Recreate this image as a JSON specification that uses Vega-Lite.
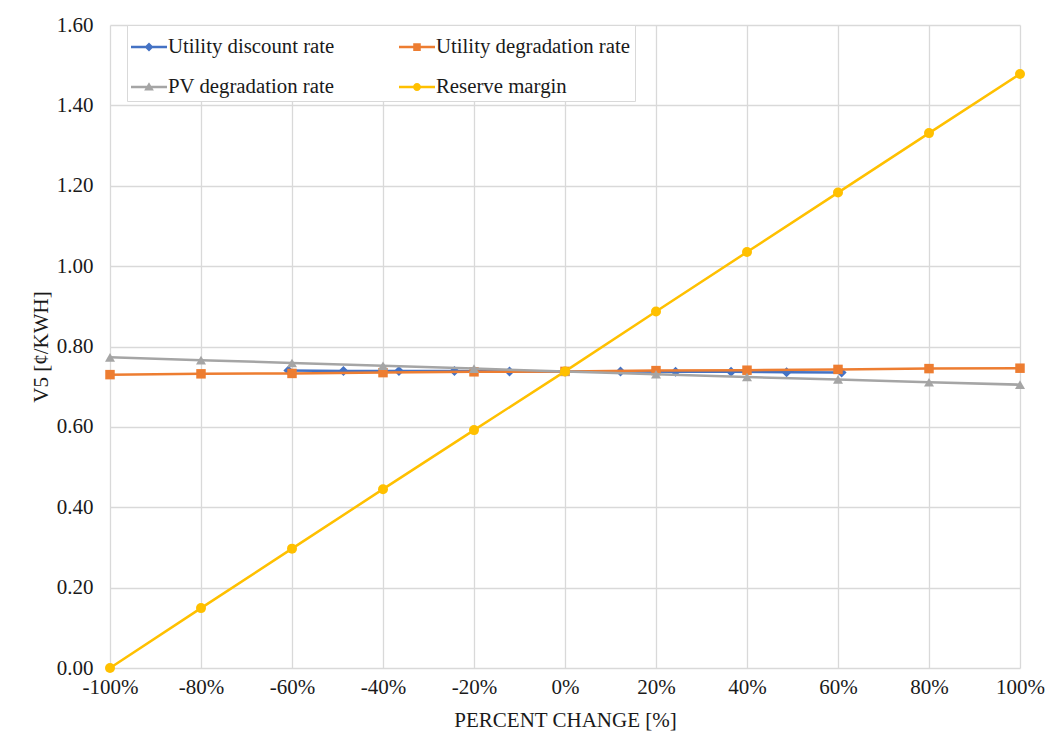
{
  "$schema": "https://vega.github.io/schema/vega-lite/v6.json",
  "width": 910,
  "height": 643,
  "autosize": {"type": "none"},
  "padding": {"left": 110, "top": 25, "right": 38, "bottom": 83},
  "background": "white",
  "config": {
    "view": {"stroke": null},
    "font": "Liberation Serif",
    "axis": {
      "labelFont": "Liberation Serif",
      "titleFont": "Liberation Serif",
      "labelFontSize": 21,
      "titleFontSize": 21,
      "titleFontWeight": "normal",
      "labelColor": "#1a1a1a",
      "titleColor": "#1a1a1a",
      "gridColor": "#d9d9d9",
      "gridWidth": 1.3,
      "domain": false,
      "ticks": false,
      "labelFlush": false,
      "labelOverlap": false
    }
  },
  "data": {
    "values": [
      {"series": "Utility discount rate", "x": -60.8, "y": 0.740},
      {"series": "Utility discount rate", "x": -48.7, "y": 0.739},
      {"series": "Utility discount rate", "x": -36.5, "y": 0.739},
      {"series": "Utility discount rate", "x": -24.3, "y": 0.739},
      {"series": "Utility discount rate", "x": -12.2, "y": 0.738},
      {"series": "Utility discount rate", "x": 0, "y": 0.738},
      {"series": "Utility discount rate", "x": 12.2, "y": 0.738},
      {"series": "Utility discount rate", "x": 24.3, "y": 0.737},
      {"series": "Utility discount rate", "x": 36.5, "y": 0.737},
      {"series": "Utility discount rate", "x": 48.7, "y": 0.736},
      {"series": "Utility discount rate", "x": 60.8, "y": 0.735},
      {"series": "Utility degradation rate", "x": -100, "y": 0.730},
      {"series": "Utility degradation rate", "x": -80, "y": 0.732},
      {"series": "Utility degradation rate", "x": -60, "y": 0.733},
      {"series": "Utility degradation rate", "x": -40, "y": 0.735},
      {"series": "Utility degradation rate", "x": -20, "y": 0.737},
      {"series": "Utility degradation rate", "x": 0, "y": 0.738},
      {"series": "Utility degradation rate", "x": 20, "y": 0.740},
      {"series": "Utility degradation rate", "x": 40, "y": 0.741},
      {"series": "Utility degradation rate", "x": 60, "y": 0.743},
      {"series": "Utility degradation rate", "x": 80, "y": 0.745},
      {"series": "Utility degradation rate", "x": 100, "y": 0.746},
      {"series": "PV degradation rate", "x": -100, "y": 0.773},
      {"series": "PV degradation rate", "x": -80, "y": 0.766},
      {"series": "PV degradation rate", "x": -60, "y": 0.759},
      {"series": "PV degradation rate", "x": -40, "y": 0.752},
      {"series": "PV degradation rate", "x": -20, "y": 0.745},
      {"series": "PV degradation rate", "x": 0, "y": 0.738},
      {"series": "PV degradation rate", "x": 20, "y": 0.731},
      {"series": "PV degradation rate", "x": 40, "y": 0.724},
      {"series": "PV degradation rate", "x": 60, "y": 0.718},
      {"series": "PV degradation rate", "x": 80, "y": 0.711},
      {"series": "PV degradation rate", "x": 100, "y": 0.705},
      {"series": "Reserve margin", "x": -100, "y": 0.000},
      {"series": "Reserve margin", "x": -80, "y": 0.149},
      {"series": "Reserve margin", "x": -60, "y": 0.297},
      {"series": "Reserve margin", "x": -40, "y": 0.445},
      {"series": "Reserve margin", "x": -20, "y": 0.592},
      {"series": "Reserve margin", "x": 0, "y": 0.738},
      {"series": "Reserve margin", "x": 20, "y": 0.887},
      {"series": "Reserve margin", "x": 40, "y": 1.035},
      {"series": "Reserve margin", "x": 60, "y": 1.183},
      {"series": "Reserve margin", "x": 80, "y": 1.331},
      {"series": "Reserve margin", "x": 100, "y": 1.478}
    ]
  },
  "encoding": {
    "x": {
      "field": "x",
      "type": "quantitative",
      "scale": {"domain": [-100, 100], "nice": false, "zero": false},
      "axis": {
        "title": "PERCENT CHANGE [%]",
        "values": [-100, -80, -60, -40, -20, 0, 20, 40, 60, 80, 100],
        "labelExpr": "datum.value + '%'",
        "labelPadding": 8,
        "titlePadding": 12,
        "grid": true
      }
    },
    "y": {
      "field": "y",
      "type": "quantitative",
      "scale": {"domain": [0, 1.6], "nice": false},
      "axis": {
        "title": "V5 [¢/KWH]",
        "values": [0, 0.2, 0.4, 0.6, 0.8, 1.0, 1.2, 1.4, 1.6],
        "format": ".2f",
        "labelPadding": 17,
        "titlePadding": 5,
        "grid": true
      }
    },
    "color": {
      "field": "series",
      "type": "nominal",
      "sort": ["Utility discount rate", "Utility degradation rate", "PV degradation rate", "Reserve margin"],
      "scale": {
        "domain": ["Utility discount rate", "Utility degradation rate", "PV degradation rate", "Reserve margin"],
        "range": ["#4472C4", "#ED7D31", "#A5A5A5", "#FFC000"]
      },
      "legend": {
        "title": null,
        "orient": "none",
        "legendX": 17,
        "legendY": 0,
        "direction": "horizontal",
        "columns": 2,
        "columnPadding": 64,
        "rowPadding": 12,
        "padding": 4,
        "fillColor": "white",
        "strokeColor": "#d9d9d9",
        "symbolSize": 1296,
        "symbolStrokeWidth": 0,
        "labelFont": "Liberation Serif",
        "labelFontSize": 20.8,
        "labelColor": "#1a1a1a",
        "labelLimit": 300,
        "labelOffset": 1,
        "encode": {
          "symbols": {
            "update": {
              "shape": {"signal": "datum.value === 'Utility discount rate' ? 'M-1,-0.07H1V0.07H-1Z M0,-0.25L0.25,0L0,0.25L-0.25,0Z' : datum.value === 'Utility degradation rate' ? 'M-1,-0.07H1V0.07H-1Z M-0.21,-0.21H0.21V0.21H-0.21Z' : datum.value === 'PV degradation rate' ? 'M-1,-0.07H1V0.07H-1Z M0,-0.27L0.27,0.2H-0.27Z' : 'M-1,-0.07H1V0.07H-1Z M-0.22,0A0.22,0.22,0,1,1,0.22,0A0.22,0.22,0,1,1,-0.22,0Z'"},
              "fill": {"scale": "color", "field": "value"},
              "stroke": {"value": "transparent"},
              "strokeWidth": {"value": 0},
              "opacity": {"value": 1}
            }
          }
        }
      }
    }
  },
  "layer": [
    {
      "transform": [{"filter": "datum.series === 'Utility discount rate'"}],
      "mark": {"type": "line", "strokeWidth": 2.5}
    },
    {
      "transform": [{"filter": "datum.series === 'Utility discount rate'"}],
      "mark": {"type": "point", "filled": true, "opacity": 1, "size": 100, "shape": "diamond"}
    },
    {
      "transform": [{"filter": "datum.series === 'Utility degradation rate'"}],
      "mark": {"type": "line", "strokeWidth": 2.5}
    },
    {
      "transform": [{"filter": "datum.series === 'Utility degradation rate'"}],
      "mark": {"type": "point", "filled": true, "opacity": 1, "size": 90, "shape": "square"}
    },
    {
      "transform": [{"filter": "datum.series === 'PV degradation rate'"}],
      "mark": {"type": "line", "strokeWidth": 2.5}
    },
    {
      "transform": [{"filter": "datum.series === 'PV degradation rate'"}],
      "mark": {"type": "point", "filled": true, "opacity": 1, "size": 100, "shape": "triangle-up"}
    },
    {
      "transform": [{"filter": "datum.series === 'Reserve margin'"}],
      "mark": {"type": "line", "strokeWidth": 2.5}
    },
    {
      "transform": [{"filter": "datum.series === 'Reserve margin'"}],
      "mark": {"type": "point", "filled": true, "opacity": 1, "size": 100, "shape": "circle"}
    }
  ]
}
